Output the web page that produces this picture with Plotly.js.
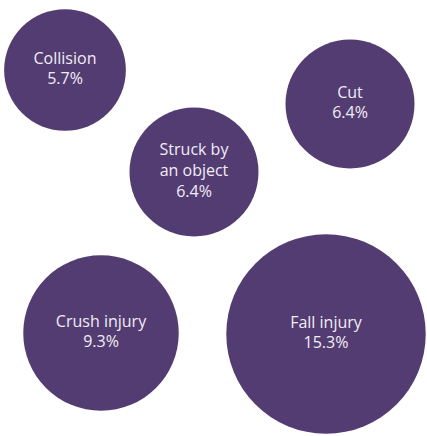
<!DOCTYPE html>
<html>
<head>
<meta charset="utf-8">
<script src="https://cdn.plot.ly/plotly-3.0.1.min.js"></script>
<style>html,body{margin:0;padding:0;background:#fff;}#chart{width:427px;height:436px;}</style>
</head>
<body>
<div id="chart"></div>
<script>
// Data
var categories = ["Collision", "Cut", "Struck by<br>an object", "Crush injury", "Fall injury"];
var shares = [5.7, 6.4, 6.4, 9.3, 15.3];

// Layout positions (pixel-like coordinates in the chart area)
var bubbleX = [65, 350, 194, 101, 326];
var bubbleY = [70, 104, 172, 333, 334];

var labels = categories.map(function (c, i) { return c + "<br>" + shares[i].toFixed(1) + "%"; });

var trace = {
  type: "scatter",
  mode: "markers+text",
  x: bubbleX,
  y: bubbleY,
  text: labels,
  textposition: "middle center",
  textfont: { family: "'Open Sans', sans-serif", size: 16, color: "#f2edf5" },
  marker: {
    size: shares,
    sizemode: "area",
    sizeref: 1 / 1300,
    color: "#533c72",
    opacity: 1,
    line: { width: 0 }
  },
  hoverinfo: "skip",
  cliponaxis: false
};

var layout = {
  width: 427,
  height: 436,
  margin: { l: 0, r: 0, t: 0, b: 0 },
  paper_bgcolor: "#ffffff",
  plot_bgcolor: "#ffffff",
  showlegend: false,
  xaxis: { range: [0, 427], visible: false, fixedrange: true },
  yaxis: { range: [436, 0], visible: false, fixedrange: true }
};

Plotly.newPlot("chart", [trace], layout, { displayModeBar: false, staticPlot: true });
</script>
</body>
</html>
